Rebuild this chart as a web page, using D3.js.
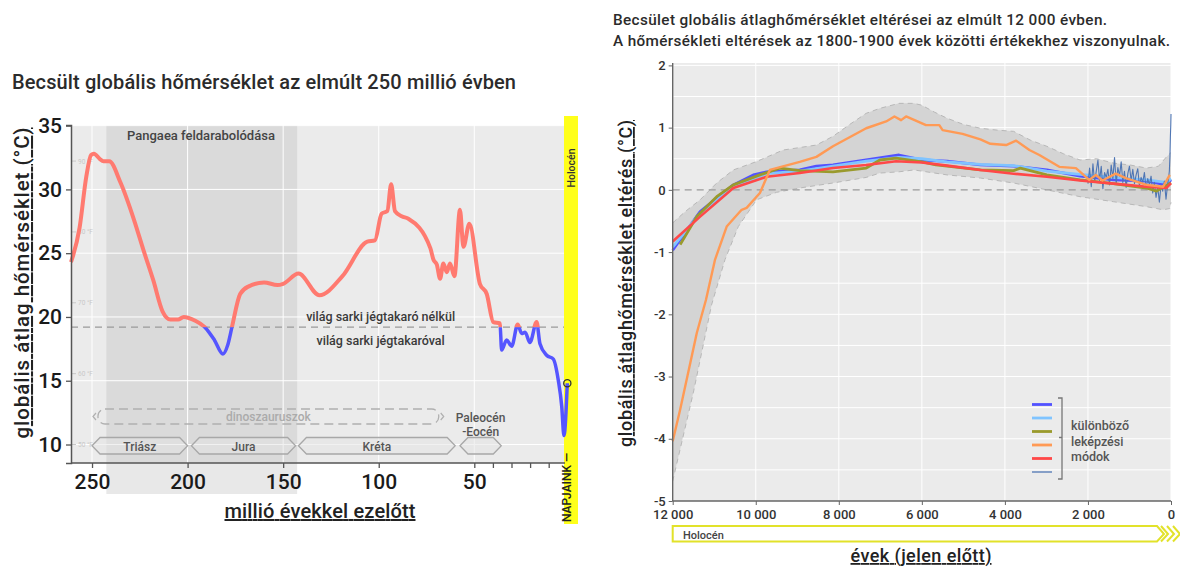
<!DOCTYPE html>
<html>
<head>
<meta charset="utf-8">
<script src="https://cdn.jsdelivr.net/npm/d3@7"></script>
<style>
  html, body { margin: 0; padding: 0; background: #fff; }
  svg { display: block; font-family: Roboto, "Noto Sans", sans-serif; }
</style>
</head>
<body>
<svg id="chart" width="1180" height="567"></svg>
<script>
// ---------- Left panel: 250 million years ----------
const paleoAges = [261, 256.5, 253, 250.5, 249, 246, 244, 241, 235, 228, 223, 218, 213, 209, 205, 202, 196, 191, 186, 181.5, 179, 176.8, 172.5, 168, 160, 153, 150, 142, 131, 119, 106, 102, 98.5, 95.5, 93.5, 91.5, 88, 84.5, 73, 71.4, 69.6, 67.9, 66.2, 64.4, 62.7, 60.4, 57.5, 55.7, 52.6, 47, 43.3, 39.8, 36.2, 35.3, 32.6, 29.9, 26.7, 24.5, 22.7, 20.1, 16.5, 14.7, 11.1, 7.5, 4.8, 3.0, 1.8, 0];
const paleoTemps = [24.3, 27.0, 31.0, 32.7, 32.8, 32.4, 32.2, 32.2, 30.5, 27.6, 25.2, 22.9, 20.4, 19.8, 19.8, 20.0, 19.7, 19.2, 18.2, 17.1, 17.8, 19.2, 21.8, 22.4, 22.7, 22.5, 22.6, 23.4, 21.7, 23.2, 25.9, 26.0, 28.1, 28.3, 30.4, 28.3, 27.9, 27.7, 25.4, 24.5, 24.1, 23.0, 24.2, 23.5, 24.2, 23.2, 28.4, 25.5, 27.3, 22.6, 21.8, 19.6, 19.5, 17.4, 18.2, 17.7, 19.4, 18.7, 18.8, 18.0, 19.6, 17.9, 17.0, 16.7, 15.0, 13.0, 10.7, 14.8];
const iceThreshold = 19.2;
const paleoTicksMajor = [250, 200, 150, 100, 50];
const paleoTicksMinor = [40, 30, 20, 10];
const tempTicks = [10, 15, 20, 25, 30, 35];
const fahrenheitLabels = ["50 °F", "60 °F", "70 °F", "80 °F", "90 °F"];
const fahrenheitValues = [50, 60, 70, 80, 90];
const periodNames = ["Triász", "Jura", "Kréta", ""];
const periodStart = [250, 198, 142, 57.5];
const periodEnd = [200, 143.5, 60, 35.5];
const dinoSpan = [249.5, 66];
const pangaeaSpan = [242.5, 142.7];

// ---------- Right panel: 12 000 years ----------
const holoTicks = [12000, 10000, 8000, 6000, 4000, 2000, 0];
const anomTicks = [2, 1, 0, -1, -2, -3, -4, -5];
const anomGrid = [2, 1.5, 1, 0.5, -0.5, -1, -1.5, -2, -2.5, -3, -3.5, -4, -4.5];

const bandHiYears = [12000, 11700, 11340, 10940, 10540, 10000, 9340, 8940, 8540, 8140, 7740, 7340, 7010, 6550, 6190, 6000, 5700, 5390, 4990, 4590, 4190, 3790, 3390, 2990, 2590, 2190, 1790, 1390, 990, 590, 300, 110, 0];
const bandHi = [-0.53, -0.35, -0.16, 0.11, 0.32, 0.45, 0.64, 0.68, 0.72, 0.86, 1.05, 1.23, 1.31, 1.39, 1.39, 1.36, 1.25, 1.15, 1.05, 0.99, 0.96, 0.94, 0.80, 0.70, 0.58, 0.48, 0.50, 0.43, 0.40, 0.35, 0.38, 0.53, 0.60];
const bandLoYears = [12000, 11500, 11065, 10740, 10420, 9980, 9500, 8940, 8140, 7340, 7010, 6550, 6190, 5390, 4590, 3790, 2990, 2190, 1390, 590, 190, 30, 0];
const bandLo = [-4.68, -3.25, -1.85, -1.12, -0.59, -0.16, -0.04, 0.03, 0.11, 0.20, 0.27, 0.29, 0.32, 0.24, 0.19, 0.11, 0.00, -0.11, -0.19, -0.27, -0.32, -0.30, -0.20];

const orangeYears = [12000, 11820, 11420, 11200, 10980, 10700, 10340, 10220, 9900, 9660, 8940, 8540, 8140, 7340, 6860, 6660, 6500, 6380, 5900, 5580, 5500, 5020, 4590, 4350, 3970, 3730, 3410, 3170, 2690, 2290, 1970, 1810, 1650, 1330, 1090, 590, 190, 30];
const orangeVals = [-4.04, -3.53, -2.30, -1.77, -1.12, -0.59, -0.32, -0.29, -0.05, 0.32, 0.45, 0.53, 0.70, 0.99, 1.10, 1.18, 1.12, 1.18, 1.04, 1.04, 0.96, 0.90, 0.81, 0.74, 0.72, 0.79, 0.64, 0.56, 0.37, 0.35, 0.16, 0.24, 0.15, 0.26, 0.19, 0.08, 0.05, 0.24];
const redYears = [12000, 11340, 10540, 9740, 8940, 8140, 7340, 6620, 6000, 5390, 4590, 3790, 2990, 2190, 1390, 590, 110, 0];
const redVals = [-0.83, -0.43, 0.03, 0.21, 0.27, 0.35, 0.40, 0.46, 0.44, 0.39, 0.32, 0.26, 0.21, 0.15, 0.10, 0.05, 0.03, 0.11];
const blueYears = [12000, 11340, 10540, 10060, 9740, 8940, 8540, 8140, 7340, 6550, 6000, 5390, 4590, 3790, 2990, 2190, 1390, 590, 110, 0];
const blueVals = [-0.97, -0.35, 0.08, 0.24, 0.29, 0.32, 0.38, 0.40, 0.48, 0.56, 0.48, 0.46, 0.40, 0.38, 0.32, 0.22, 0.16, 0.14, 0.08, 0.16];
const skyYears = [12000, 11340, 10540, 9740, 8940, 8140, 7340, 6550, 6000, 5390, 4590, 3790, 2990, 2190, 1390, 590, 110, 0];
const skyVals = [-0.92, -0.38, 0.05, 0.26, 0.30, 0.38, 0.46, 0.52, 0.50, 0.45, 0.41, 0.39, 0.30, 0.25, 0.20, 0.16, 0.12, 0.18];
const oliveYears = [11820, 11420, 10940, 10540, 9900, 9420, 8940, 8140, 7340, 7010, 6620, 6000, 5660, 4590, 3790, 3630, 2990, 2190, 1390, 590, 350, 0];
const oliveVals = [-0.88, -0.43, -0.11, 0.08, 0.24, 0.35, 0.31, 0.29, 0.35, 0.48, 0.51, 0.45, 0.40, 0.32, 0.31, 0.35, 0.24, 0.16, 0.10, 0.03, -0.02, 0.11];
const recentYears = [2000, 1960, 1920, 1880, 1840, 1800, 1760, 1720, 1680, 1640, 1600, 1560, 1520, 1480, 1440, 1400, 1360, 1320, 1280, 1240, 1200, 1160, 1120, 1080, 1040, 1000, 960, 920, 880, 840, 800, 760, 720, 680, 640, 600, 560, 520, 480, 440, 400, 360, 320, 280, 240, 200, 160, 120, 80, 60, 40, 25, 15, 5, 0];
const recentVals = [0.10, 0.35, 0.05, 0.42, 0.12, 0.30, 0.48, 0.15, 0.38, 0.02, 0.28, 0.20, 0.33, 0.08, 0.40, 0.18, 0.52, 0.10, 0.36, 0.22, 0.45, 0.12, 0.30, 0.04, 0.26, 0.38, 0.15, 0.33, 0.10, 0.24, 0.34, 0.06, 0.20, 0.12, 0.28, 0.02, 0.18, 0.08, 0.22, -0.05, 0.12, -0.12, 0.05, -0.20, 0.08, -0.02, 0.14, -0.15, 0.10, 0.18, 0.30, 0.55, 0.85, 1.05, 1.22];
const legendColors = ["#5252ff", "#80c4ff", "#9a9a2c", "#ff9a55", "#ff4848", "#4f76b4"];
const legendText = ["különböző", "leképzési", "módok"];

const svg = d3.select("#chart");

// ======================= LEFT PANEL =======================
const L = { left: 71, right: 565, top: 125, bottom: 463 };
const xL = d3.scaleLinear().domain([261, 50, 0]).range([L.left, 474.3, 567.3]);
const yL = d3.scaleLinear().domain([8.55, 35.05]).range([L.bottom, L.top]);

svg.append("text").attr("x", 12).attr("y", 89)
  .attr("font-size", 20).attr("font-weight", 500).attr("fill", "#2b2b2b")
  .attr("textLength", 504).attr("lengthAdjust", "spacing")
  .text("Becsült globális hőmérséklet az elmúlt 250 millió évben");

svg.append("rect").attr("x", L.left).attr("y", L.top)
  .attr("width", L.right - L.left).attr("height", L.bottom - L.top).attr("fill", "#ebebeb");

// Pangaea break-up period (extends under the axis)
svg.append("rect")
  .attr("x", xL(pangaeaSpan[0])).attr("y", L.top)
  .attr("width", xL(pangaeaSpan[1]) - xL(pangaeaSpan[0])).attr("height", 494 - L.top)
  .attr("fill", "#b2b2b2").attr("fill-opacity", 0.3);

// grid
const gL = svg.append("g");
gL.selectAll("line.v").data(paleoTicksMajor).join("line")
  .attr("x1", d => xL(d)).attr("x2", d => xL(d)).attr("y1", L.top).attr("y2", L.bottom)
  .attr("stroke", "#fff").attr("stroke-width", 1);
gL.selectAll("line.h").data(tempTicks).join("line")
  .attr("x1", L.left).attr("x2", L.right).attr("y1", d => yL(d)).attr("y2", d => yL(d))
  .attr("stroke", "#fff").attr("stroke-width", 1);

// Fahrenheit hints
const fG = svg.append("g").attr("fill", "#c8c8c8").attr("font-size", 6.5);
fahrenheitValues.forEach((f, i) => {
  const c = (f - 32) * 5 / 9;
  fG.append("line").attr("x1", L.left).attr("x2", L.left + 5)
    .attr("y1", yL(c)).attr("y2", yL(c)).attr("stroke", "#c8c8c8");
  fG.append("text").attr("x", L.left + 7).attr("y", yL(c) + 2.5).text(fahrenheitLabels[i]);
});

svg.append("text").attr("x", xL(193)).attr("y", 140).attr("text-anchor", "middle")
  .attr("font-size", 13).attr("font-weight", 500).attr("fill", "#444")
  .text("Pangaea feldarabolódása");

// polar ice threshold
svg.append("line").attr("x1", L.left).attr("x2", 576)
  .attr("y1", yL(iceThreshold)).attr("y2", yL(iceThreshold))
  .attr("stroke", "#9a9a9a").attr("stroke-width", 1.2).attr("stroke-dasharray", "7,5");
svg.append("text").attr("x", xL(99)).attr("y", 321).attr("text-anchor", "middle")
  .attr("font-size", 12.5).attr("font-weight", 500).attr("fill", "#3a3a3a")
  .text("világ sarki jégtakaró nélkül");
svg.append("text").attr("x", xL(99)).attr("y", 345).attr("text-anchor", "middle")
  .attr("font-size", 12.5).attr("font-weight", 500).attr("fill", "#3a3a3a")
  .text("világ sarki jégtakaróval");

// dinosaurs (dashed)
const dx0 = xL(dinoSpan[0]), dx1 = xL(dinoSpan[1]), dy0 = 409, dy1 = 424;
svg.append("rect").attr("x", dx0 + 5).attr("y", dy0).attr("width", dx1 - dx0 - 10).attr("height", dy1 - dy0)
  .attr("rx", 7).attr("fill", "none").attr("stroke", "#b0b0b0").attr("stroke-width", 1.3)
  .attr("stroke-dasharray", "9,5");
svg.append("path").attr("d", `M${dx0 + 3},${dy0 + 4} L${dx0},${(dy0 + dy1) / 2} L${dx0 + 3},${dy1 - 4}`)
  .attr("fill", "none").attr("stroke", "#b0b0b0").attr("stroke-width", 1.2);
svg.append("path").attr("d", `M${dx1 - 3},${dy0 + 4} L${dx1},${(dy0 + dy1) / 2} L${dx1 - 3},${dy1 - 4}`)
  .attr("fill", "none").attr("stroke", "#b0b0b0").attr("stroke-width", 1.2);
svg.append("text").attr("x", (dx0 + dx1) / 2).attr("y", dy1 - 3.5).attr("text-anchor", "middle")
  .attr("font-size", 12).attr("font-weight", 500).attr("fill", "#ababab").text("dinoszauruszok");

// geological periods (hexagonal arrows)
const py0 = 437.5, py1 = 454, tip = 8;
periodNames.forEach((name, i) => {
  const a = xL(periodStart[i]), b = xL(periodEnd[i]), m = (py0 + py1) / 2;
  svg.append("path")
    .attr("d", `M${a},${m} L${a + tip},${py0} L${b - tip},${py0} L${b},${m} L${b - tip},${py1} L${a + tip},${py1} Z`)
    .attr("fill", "#e4e4e4").attr("fill-opacity", 0.5).attr("stroke", "#a8a8a8").attr("stroke-width", 1.3);
  if (name) svg.append("text").attr("x", (a + b) / 2).attr("y", py1 - 3.5).attr("text-anchor", "middle")
    .attr("font-size", 12).attr("font-weight", 500).attr("fill", "#555").text(name);
});
svg.append("text").attr("x", (xL(periodStart[3]) + xL(periodEnd[3])) / 2).attr("y", 422)
  .attr("text-anchor", "middle").attr("font-size", 12).attr("font-weight", 500).attr("fill", "#555")
  .text("Paleocén");
svg.append("text").attr("x", (xL(periodStart[3]) + xL(periodEnd[3])) / 2).attr("y", 436)
  .attr("text-anchor", "middle").attr("font-size", 12).attr("font-weight", 500).attr("fill", "#555")
  .text("-Eocén");

// Holocene strip
svg.append("rect").attr("x", 564).attr("y", 116).attr("width", 14).attr("height", 408).attr("fill", "#ffff1a");
svg.append("text").attr("transform", "translate(574.5,168) rotate(-90)").attr("text-anchor", "middle")
  .attr("font-size", 10.5).attr("font-weight", 500).attr("fill", "#333").text("Holocén");

// temperature curve: red above the ice threshold, blue below
const defs = svg.append("defs");
defs.append("clipPath").attr("id", "above").append("rect")
  .attr("x", 0).attr("y", 0).attr("width", 600).attr("height", yL(iceThreshold));
defs.append("clipPath").attr("id", "below").append("rect")
  .attr("x", 0).attr("y", yL(iceThreshold)).attr("width", 600).attr("height", 567);
const paleo = paleoAges.map((a, i) => [a, paleoTemps[i]]);
const lineL = d3.line().x(d => xL(d[0])).y(d => yL(d[1])).curve(d3.curveMonotoneX);
svg.append("path").attr("d", lineL(paleo)).attr("fill", "none").attr("stroke", "#ff7a70")
  .attr("stroke-width", 4).attr("stroke-linejoin", "round").attr("clip-path", "url(#above)");
svg.append("path").attr("d", lineL(paleo)).attr("fill", "none").attr("stroke", "#5555ff")
  .attr("stroke-width", 3.5).attr("stroke-linejoin", "round").attr("clip-path", "url(#below)");
const now = paleo[paleo.length - 1];
svg.append("circle").attr("cx", xL(now[0])).attr("cy", yL(now[1])).attr("r", 3.6)
  .attr("fill", "none").attr("stroke", "#333").attr("stroke-width", 1.3);
svg.append("text").attr("transform", `translate(${xL(0) + 4},522) rotate(-90)`)
  .attr("font-size", 12).attr("font-weight", 500).attr("fill", "#222").text("NAPJAINK —");

// axes
const axL = svg.append("g").attr("transform", `translate(${L.left},0)`)
  .call(d3.axisLeft(yL).tickValues(tempTicks).tickSize(5).tickPadding(4));
axL.select(".domain").attr("stroke", "#555").attr("stroke-width", 1.5);
axL.selectAll(".tick line").attr("stroke", "#555").attr("stroke-width", 1.3);
axL.selectAll(".tick text").attr("font-size", 21).attr("font-weight", 500).attr("fill", "#1a1a1a")
  .attr("font-family", "Roboto");
const axB = svg.append("g").attr("transform", `translate(0,${L.bottom})`)
  .call(d3.axisBottom(xL).tickValues(paleoTicksMajor.concat(paleoTicksMinor)).tickSize(5).tickPadding(6)
    .tickFormat(d => paleoTicksMajor.includes(d) ? d : ""));
axB.select(".domain").attr("d", `M${L.left},0H${L.right}`).attr("stroke", "#555").attr("stroke-width", 1.5);
axB.selectAll(".tick line").attr("stroke", "#555").attr("stroke-width", 1.3);
axB.selectAll(".tick text").attr("font-size", 21).attr("font-weight", 500).attr("fill", "#1a1a1a")
  .attr("font-family", "Roboto");

svg.append("text").attr("transform", "translate(29,283) rotate(-90)").attr("text-anchor", "middle")
  .attr("font-size", 20.5).attr("font-weight", 500).attr("fill", "#222")
  .attr("textLength", 311).attr("lengthAdjust", "spacing")
  .style("text-decoration", "underline").text("globális átlag hőmérséklet (°C)");
svg.append("text").attr("x", 320).attr("y", 518).attr("text-anchor", "middle")
  .attr("font-size", 20).attr("font-weight", 500).attr("fill", "#222")
  .attr("textLength", 191).attr("lengthAdjust", "spacing")
  .style("text-decoration", "underline").text("millió évekkel ezelőtt");

// ======================= RIGHT PANEL =======================
const R = { left: 672.7, right: 1171, top: 63, bottom: 501 };
const xR = d3.scaleLinear().domain([12000, 0]).range([R.left, R.right]);
const yR = d3.scaleLinear().domain([-5, 2]).range([R.bottom, 65.4]);

svg.append("text").attr("x", 613).attr("y", 25).attr("font-size", 15.3).attr("font-weight", 500)
  .attr("fill", "#2b2b2b").attr("textLength", 494).attr("lengthAdjust", "spacing")
  .text("Becsület globális átlaghőmérséklet eltérései az elmúlt 12 000 évben.");
svg.append("text").attr("x", 613).attr("y", 46).attr("font-size", 15.3).attr("font-weight", 500)
  .attr("fill", "#2b2b2b").attr("textLength", 557).attr("lengthAdjust", "spacing")
  .text("A hőmérsékleti eltérések az 1800-1900 évek közötti értékekhez viszonyulnak.");

svg.append("rect").attr("x", R.left).attr("y", R.top).attr("width", R.right - R.left)
  .attr("height", R.bottom - R.top).attr("fill", "#ebebeb");
svg.selectAll("line.rv").data(holoTicks).join("line")
  .attr("x1", d => xR(d)).attr("x2", d => xR(d)).attr("y1", R.top).attr("y2", R.bottom)
  .attr("stroke", "#fff").attr("stroke-width", 1);
svg.selectAll("line.rh").data(anomGrid).join("line")
  .attr("x1", R.left).attr("x2", R.right).attr("y1", d => yR(d)).attr("y2", d => yR(d))
  .attr("stroke", "#fff").attr("stroke-width", 1);

// uncertainty envelope
const hiPts = bandHiYears.map((y, i) => [y, bandHi[i]]);
const loPts = bandLoYears.map((y, i) => [y, bandLo[i]]);
const lineR = d3.line().x(d => xR(d[0])).y(d => yR(d[1]));
svg.append("path").attr("d", lineR(hiPts.concat(loPts.slice().reverse())) + "Z")
  .attr("fill", "#d4d4d4");
[hiPts, loPts].forEach(p => svg.append("path").attr("d", lineR(p)).attr("fill", "none")
  .attr("stroke", "#b8b8b8").attr("stroke-width", 1).attr("stroke-dasharray", "5,4"));

svg.append("line").attr("x1", R.left).attr("x2", R.right).attr("y1", yR(0)).attr("y2", yR(0))
  .attr("stroke", "#9a9a9a").attr("stroke-width", 1.2).attr("stroke-dasharray", "7,5");

const series = [
  [blueYears, blueVals, legendColors[0], 2.8],
  [skyYears, skyVals, legendColors[1], 2.8],
  [recentYears, recentVals, legendColors[5], 1.1],
  [oliveYears, oliveVals, legendColors[2], 2.8],
  [redYears, redVals, legendColors[4], 2.6],
  [orangeYears, orangeVals, legendColors[3], 2.4]
];
series.forEach(([ys, vs, col, w]) => {
  svg.append("path").attr("d", lineR(ys.map((y, i) => [y, vs[i]])))
    .attr("fill", "none").attr("stroke", col).attr("stroke-width", w).attr("stroke-linejoin", "round");
});

// legend
const legY = [404.5, 418, 431.5, 445, 458.5, 472];
legendColors.forEach((c, i) => {
  svg.append("line").attr("x1", 1032).attr("x2", 1052).attr("y1", legY[i]).attr("y2", legY[i])
    .attr("stroke", c).attr("stroke-width", i === 5 ? 1.3 : 2.8);
});
svg.append("path").attr("d", "M1058,398 H1062 V479 H1058 M1062,437.5 H1059")
  .attr("fill", "none").attr("stroke", "#777").attr("stroke-width", 1.3);
legendText.forEach((t, i) => svg.append("text").attr("x", 1071).attr("y", 430 + i * 15.5)
  .attr("font-size", 12.5).attr("font-weight", 500).attr("fill", "#555").text(t));

// axes
const ayR = svg.append("g").attr("transform", `translate(${R.left},0)`)
  .call(d3.axisLeft(yR).tickValues(anomTicks).tickSize(4).tickPadding(3).tickFormat(d => String(d)));
ayR.select(".domain").attr("d", `M0,${R.top}V${R.bottom}`).attr("stroke", "#666").attr("stroke-width", 1.4);
ayR.selectAll(".tick line").attr("stroke", "#666");
ayR.selectAll(".tick text").attr("font-size", 13).attr("font-weight", 500).attr("fill", "#333")
  .attr("font-family", "Roboto");
const axR = svg.append("g").attr("transform", `translate(0,${R.bottom})`)
  .call(d3.axisBottom(xR).tickValues(holoTicks).tickSize(4).tickPadding(5)
    .tickFormat(d => d3.format(",")(d).replace(",", " ")));
axR.select(".domain").attr("d", `M${R.left},0H${R.right}`).attr("stroke", "#666").attr("stroke-width", 1.4);
axR.selectAll(".tick line").attr("stroke", "#666");
axR.selectAll(".tick text").attr("font-size", 13).attr("font-weight", 500).attr("fill", "#333")
  .attr("font-family", "Roboto");

// Holocene bar
svg.append("path").attr("d", `M${R.left},526 H1157 L1164,534 L1157,541.5 H${R.left} Z`)
  .attr("fill", "#fff").attr("stroke", "#e2e22a").attr("stroke-width", 2);
svg.append("path").attr("d", "M1161,526 L1168,534 L1161,541.5 M1167,526 L1174,534 L1167,541.5 M1173,526 L1180,534 L1173,541.5")
  .attr("fill", "none").attr("stroke", "#e2e22a").attr("stroke-width", 2);
svg.append("text").attr("x", 683).attr("y", 538.5).attr("font-size", 11).attr("font-weight", 500)
  .attr("fill", "#444").text("Holocén");

svg.append("text").attr("transform", "translate(632,283.5) rotate(-90)").attr("text-anchor", "middle")
  .attr("font-size", 18).attr("font-weight", 500).attr("fill", "#222")
  .attr("textLength", 327).attr("lengthAdjust", "spacing")
  .style("text-decoration", "underline").text("globális átlaghőmérséklet eltérés (°C)");
svg.append("text").attr("x", 921).attr("y", 562).attr("text-anchor", "middle")
  .attr("font-size", 18).attr("font-weight", 500).attr("fill", "#222")
  .attr("textLength", 141).attr("lengthAdjust", "spacing")
  .style("text-decoration", "underline").text("évek (jelen előtt)");
</script>
</body>
</html>
